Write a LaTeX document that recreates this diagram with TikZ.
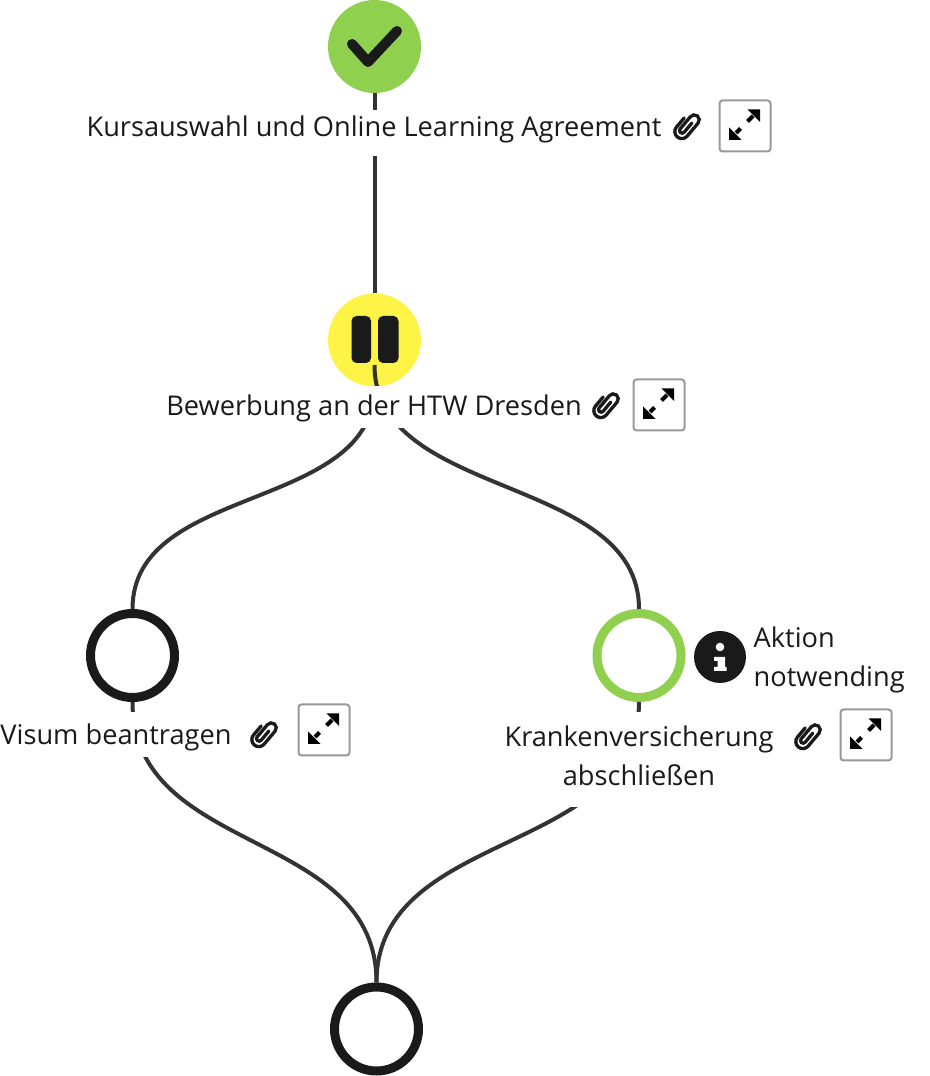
\documentclass[tikz,border=0pt]{standalone}
\usepackage{fontspec}
\setmainfont{Open Sans}
\definecolor{inkblack}{HTML}{1A1A1A}
\definecolor{edgegray}{HTML}{333333}
\definecolor{donegreen}{HTML}{8FD14F}
\definecolor{waityellow}{HTML}{FEF445}
\definecolor{btngray}{HTML}{999999}
\tikzset{
  donecircle/.style={circle,fill=#1,minimum size=93pt,inner sep=0pt,outer sep=0pt},
  ringcircle/.style={circle,draw=#1,line width=9pt,fill=white,minimum size=84pt,inner sep=0pt},
  flowedge/.style={edgegray,line width=4pt},
  steplabel/.style={fill=white,text=inkblack,inner xsep=0pt,inner ysep=0pt,font=\fontsize{27.2}{39.5}\selectfont},
  expandbtn/.style={draw=btngray,line width=2pt,rounded corners=3pt,fill=white,minimum size=51pt,inner sep=0pt},
  clipicon/.pic={
    \draw[inkblack,line width=3.3pt,rotate=-40,line cap=round]
      (2.6,6) -- (2.6,-6) arc (0:-180:2.6) -- (-2.6,10) arc (180:0:5) -- (7.4,-7) arc (0:-180:7) -- (-6.6,5);
  },
  expandicon/.pic={
    \fill (15,16.7) -- (2.5,16.7) -- (15,4.2) -- cycle;
    \draw[line width=4pt] (8,10) -- (2.5,4.5);
    \fill (-16,-14) -- (-16,-1.5) -- (-3.5,-14) -- cycle;
    \draw[line width=4pt] (-9,-7) -- (-4.5,-2.5);
  },
}
\begin{document}
\begin{tikzpicture}[x=1pt,y=1pt]
  \useasboundingbox (0,0) rectangle (929,1076);
  % step circles
  \node[donecircle=donegreen] (kurs) at (374.5,1029.5) {};
  \node[donecircle=waityellow] (bewerb) at (374.5,736) {};
  \node[ringcircle=inkblack] (visum) at (132.5,420.5) {};
  \node[ringcircle=donegreen] (kranken) at (639,420.5) {};
  \node[ringcircle=inkblack] (ziel) at (376.5,47) {};
  % connectors
  \draw[flowedge] (kurs.south) -- (bewerb.north);
  \draw[flowedge] (bewerb.south) .. controls +(0,-126) and +(0,126) .. (visum.north);
  \draw[flowedge] ([yshift=-25pt]bewerb.center) .. controls +(0,-135) and +(0,135) .. (kranken.north);
  \draw[flowedge] (visum.south) .. controls +(0,-155) and +(0,155) .. (ziel.north);
  \draw[flowedge] (kranken.south) .. controls +(0,-155) and +(0,155) .. (ziel.north);
  % labels
  \node[steplabel,anchor=base,text height=26pt,text depth=20pt,minimum width=690pt] (kurstext) at (374,939.5)
    {Kursauswahl und Online Learning Agreement};
  \node[steplabel,anchor=base,text height=29pt,text depth=13pt] (bewerbtext) at (374,660.5)
    {Bewerbung an der HTW Dresden};
  \node[steplabel,anchor=base,text height=33pt,text depth=12pt] (visumtext) at (116,331)
    {Visum beantragen};
  \node[steplabel,align=center,minimum height=95pt] (krankentext) at (639,316.5)
    {Krankenversicherung\\abschließen\rule[-8pt]{0pt}{8pt}};
  \node[steplabel,fill=none,align=left,anchor=west] (hinweis) at (753.5,416)
    {Aktion\\notwending};
  % status icons
  \draw[inkblack,line width=10pt,line cap=round,line join=round]
    ([shift={(-22.5,2.5)}]kurs.center) -- ([shift={(-6.5,-15.5)}]kurs.center) -- ([shift={(22.5,15.5)}]kurs.center);
  \fill[inkblack,rounded corners=5pt] ([shift={(-23,-23)}]bewerb.center) rectangle ([shift={(-3.5,24)}]bewerb.center);
  \fill[inkblack,rounded corners=5pt] ([shift={(3.5,-23)}]bewerb.center) rectangle ([shift={(24,24)}]bewerb.center);
  \node[circle,fill=inkblack,minimum size=52pt,inner sep=0pt] (info) at (720,419) {};
  \fill[white] ([yshift=10]info.center) circle (4.3);
  \fill[white] ([shift={(-6,0)}]info.center) -- ([shift={(5,0)}]info.center) -- ([shift={(5,-10)}]info.center)
    -- ([shift={(6.5,-10)}]info.center) -- ([shift={(6.5,-14)}]info.center) -- ([shift={(-6,-14)}]info.center)
    -- ([shift={(-6,-10)}]info.center) -- ([shift={(-2.5,-10)}]info.center) -- ([shift={(-2.5,-4)}]info.center)
    -- ([shift={(-6,-4)}]info.center) -- cycle;
  % attachments and expand buttons
  \pic at (686,950) {clipicon};
  \pic at (605,671) {clipicon};
  \pic at (263,342) {clipicon};
  \pic at (807,340) {clipicon};
  \node[expandbtn] (kursbtn) at (745,950) {};
  \node[expandbtn] (bewerbbtn) at (659,671) {};
  \node[expandbtn] (visumbtn) at (324,346) {};
  \node[expandbtn] (krankenbtn) at (866,341) {};
  \pic at (kursbtn) {expandicon};
  \pic at (bewerbbtn) {expandicon};
  \pic at (visumbtn) {expandicon};
  \pic at (krankenbtn) {expandicon};
\end{tikzpicture}
\end{document}
